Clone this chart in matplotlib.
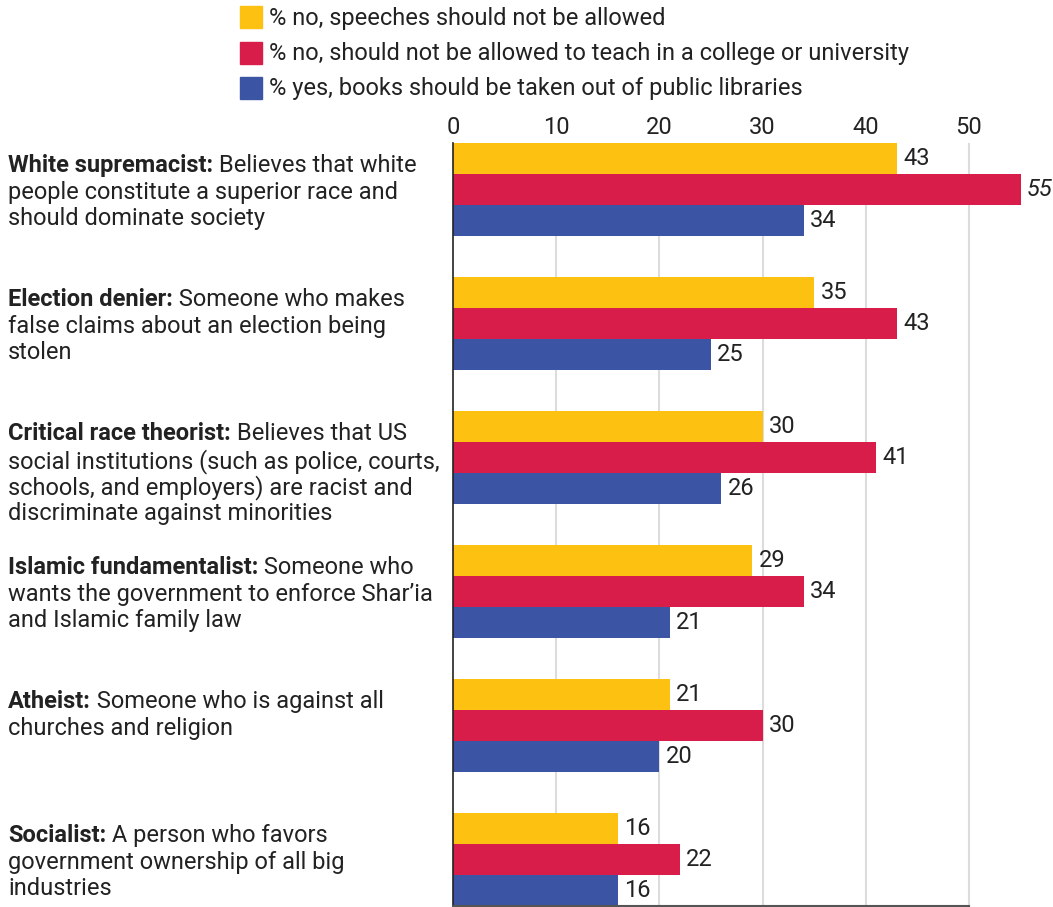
import matplotlib.pyplot as plt
import numpy as np
from matplotlib.patches import Rectangle

plt.rcParams['font.family'] = ['Roboto', 'DejaVu Sans']

# Groupes (nom en gras + description, retours à la ligne manuels)
groupes = [
    "White supremacist:",
    "Election denier:",
    "Critical race theorist:",
    "Islamic fundamentalist:",
    "Atheist:",
    "Socialist:",
]
descriptions = [
    "Believes that white\npeople constitute a superior race and\nshould dominate society",
    "Someone who makes\nfalse claims about an election being\nstolen",
    "Believes that US\nsocial institutions (such as police, courts,\nschools, and employers) are racist and\ndiscriminate against minorities",
    "Someone who\nwants the government to enforce Shar\u2019ia\nand Islamic family law",
    "Someone who is against all\nchurches and religion",
    "A person who favors\ngovernment ownership of all big\nindustries",
]

series_noms = [
    "% no, speeches should not be allowed",
    "% no, should not be allowed to teach in a college or university",
    "% yes, books should be taken out of public libraries",
]
discours = [43, 35, 30, 29, 21, 16]
enseigner = [55, 43, 41, 34, 30, 22]
livres = [34, 25, 26, 21, 20, 16]

COULEURS = ['#FDC112', '#D81D4B', '#3C54A4']
TEXTE = '#222222'
TAILLE = 17

W, H = 1053, 907
fig = plt.figure(figsize=(W / 100, H / 100), dpi=100)

# Zone du graphique en pixels
x0, x1 = 453, 1053
y_haut, y_bas = 143, 906
ax = fig.add_axes([x0 / W, 1 - y_bas / H, (x1 - x0) / W, (y_bas - y_haut) / H])

pas = 4.32
centres = np.arange(len(groupes)) * pas
valeurs = [discours, enseigner, livres]
for k, vals in enumerate(valeurs):
    y = centres + (k - 1)
    ax.barh(y, vals, height=1.0, color=COULEURS[k], zorder=2)
    for yy, v in zip(y, vals):
        style = 'italic' if v == max(enseigner) and k == 1 else 'normal'
        ax.text(v + 0.6, yy, str(v), va='center', ha='left', fontsize=TAILLE,
                color=TEXTE, style=style)

ax.set_ylim(centres[-1] + 1.5, -1.5)
ax.set_xlim(0, 600 / 10.32)
ax.set_xticks([0, 10, 20, 30, 40, 50])
ax.xaxis.tick_top()
ax.tick_params(axis='x', length=0, labelsize=TAILLE, labelcolor=TEXTE, pad=3)
ax.set_yticks([])
for x in [10, 20, 30, 40, 50]:
    ax.axvline(x, color='#dcdcdc', lw=1.5, zorder=1)
for s in ['top', 'right']:
    ax.spines[s].set_visible(False)
ax.spines['left'].set_color('#222222')
ax.spines['left'].set_linewidth(1.2)
ax.spines['bottom'].set_color('#555555')
ax.spines['bottom'].set_linewidth(1.5)
ax.spines['bottom'].set_bounds(0, 50)

# Libellés à gauche : nom en gras puis description
interligne = 26.7
for i, (nom, desc) in enumerate(zip(groupes, descriptions)):
    haut = y_haut + i * 134 + 11
    lignes = desc.split("\n")
    t = fig.text(8 / W, 1 - haut / H, nom, fontsize=TAILLE, fontweight='bold',
                 color=TEXTE, va='top', ha='left')
    ax.annotate(" " + lignes[0], xy=(1, 0), xycoords=t, va='bottom', ha='left',
                fontsize=TAILLE, color=TEXTE, annotation_clip=False)
    for j, ligne in enumerate(lignes[1:], start=1):
        fig.text(8 / W, 1 - (haut + j * interligne) / H, ligne, fontsize=TAILLE,
                 color=TEXTE, va='top', ha='left')

# Légende dessinée à la main
cote = 22
for k, (nom, c) in enumerate(zip(series_noms, COULEURS)):
    yc = 17 + k * 35.5
    fig.patches.append(Rectangle((240 / W, 1 - (yc + cote / 2) / H), cote / W, cote / H,
                                 transform=fig.transFigure, color=c, figure=fig))
    fig.text(269 / W, 1 - (yc + 1) / H, nom, fontsize=TAILLE, color=TEXTE,
             va='center', ha='left')

fig.savefig('out.png', dpi=100)
